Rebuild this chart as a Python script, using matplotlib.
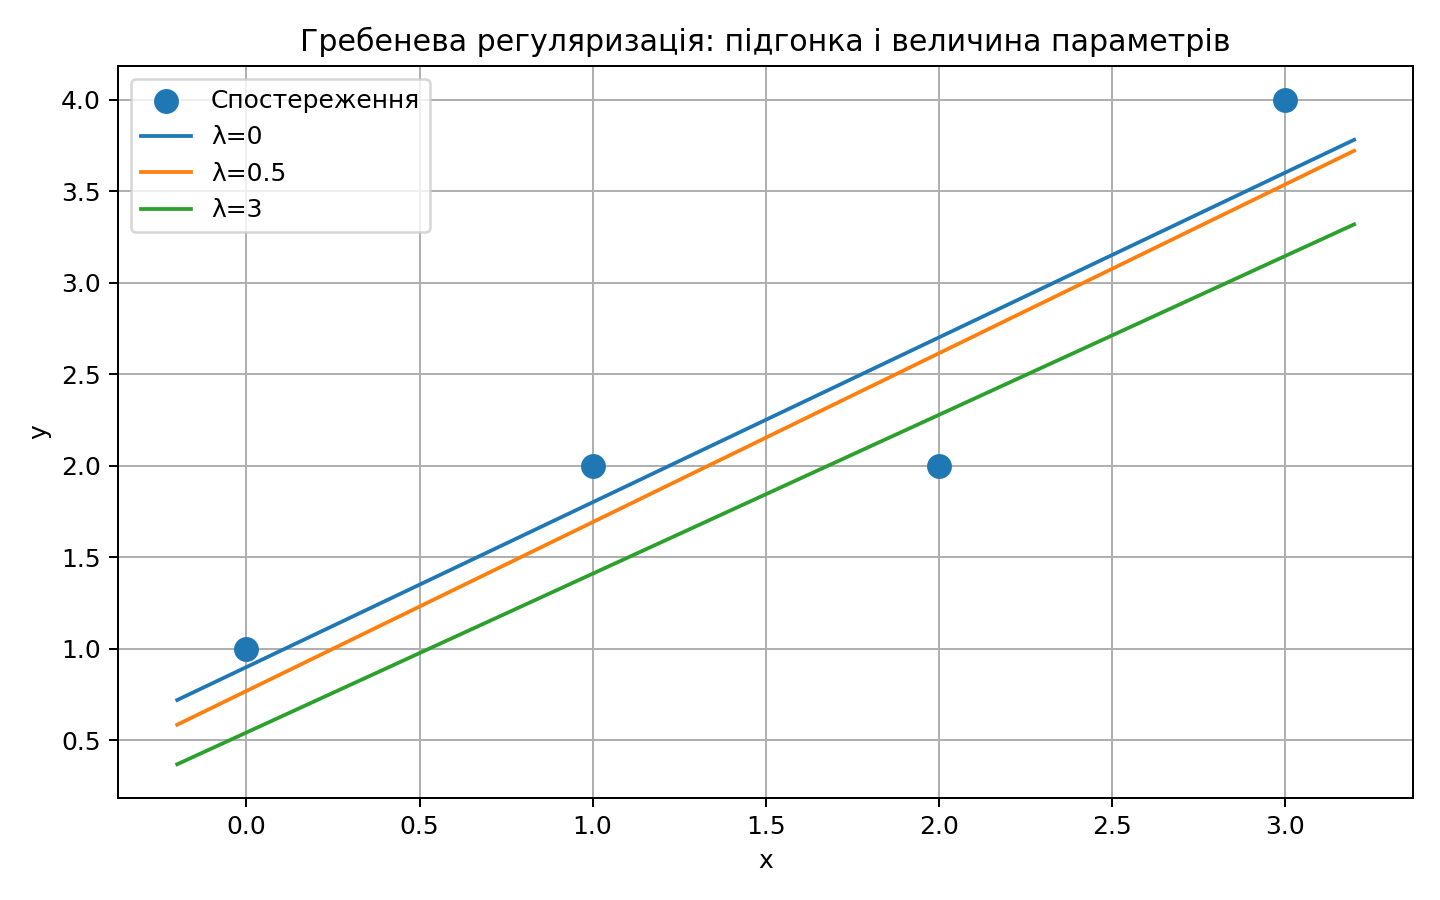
import matplotlib
matplotlib.use("Agg")
import matplotlib.pyplot as plt

# observations
x_obs = [0, 1, 2, 3]
y_obs = [1, 2, 2, 4]

# fitted lines, read at the two ends
x_line = [-0.2, 3.2]
lambdas = ["0", "0.5", "3"]
y_lines = {
    "0": [0.72, 3.78],
    "0.5": [0.585, 3.72],
    "3": [0.369, 3.318],
}

plt.figure(figsize=(8, 5), dpi=180)
plt.scatter(x_obs, y_obs, s=80, label="Спостереження", zorder=3)
for lam in lambdas:
    plt.plot(x_line, y_lines[lam], label=f"λ={lam}")
plt.title("Гребенева регуляризація: підгонка і величина параметрів")
plt.xlabel("x")
plt.ylabel("y")
plt.grid(True)
plt.legend(loc="upper left")
plt.tight_layout()
plt.savefig("out.png", dpi=180)
